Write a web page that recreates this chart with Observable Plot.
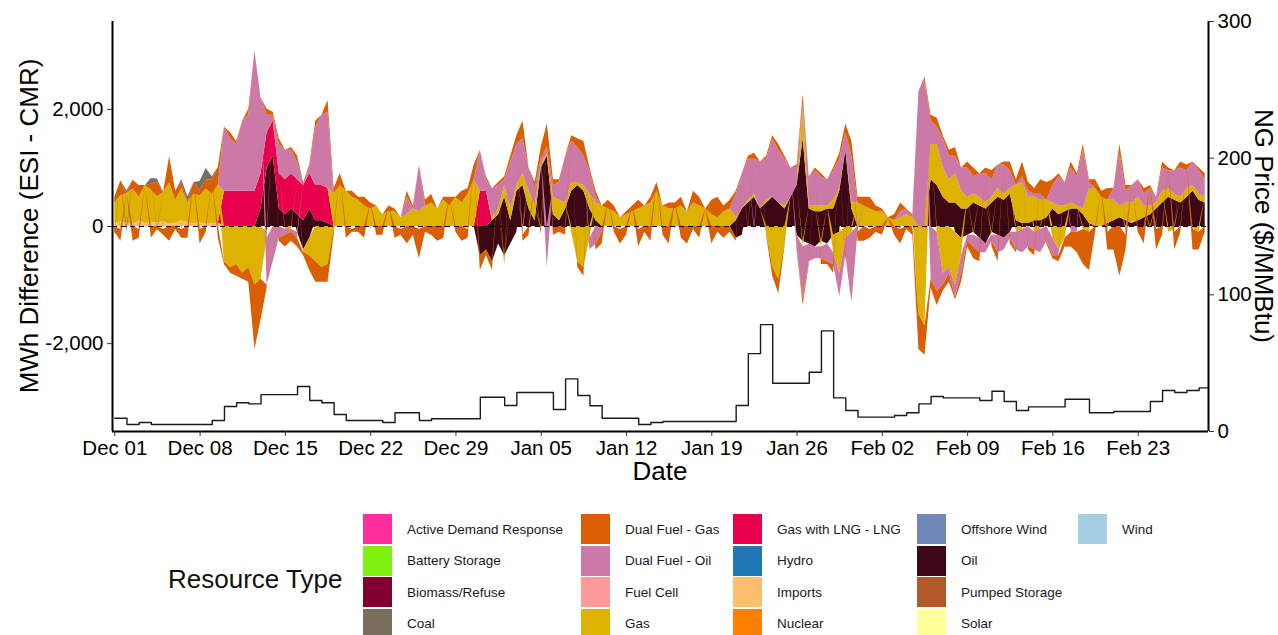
<!DOCTYPE html>
<html>
<head>
<meta charset="utf-8">
<script src="https://cdn.jsdelivr.net/npm/d3@7"></script>
<script src="https://cdn.jsdelivr.net/npm/@observablehq/plot@0.6"></script>
<style>
  body { margin: 0; background: #fff; font-family: "Liberation Sans", Arial, sans-serif; }
  #wrap { position: relative; width: 1278px; height: 635px; overflow: hidden; background: #fff; }
  #chart { position: absolute; left: 0; top: 0; }
  #legend-title { position: absolute; left: 168px; top: 579px; transform: translateY(-50%); font-size: 26px; color: #111; white-space: nowrap; }
  .item { position: absolute; display: flex; align-items: center; height: 30px; font-size: 13.5px; color: #1a1a1a; white-space: nowrap; }
  .sw { width: 29px; height: 30px; margin-right: 15px; flex: none; }
</style>
</head>
<body>
<div id="wrap"><div id="chart"></div><div id="legend-title">Resource Type</div><div id="legend"></div></div>
<script>
// ---------- categories & colours ----------
const resourceTypes = ["Active Demand Response","Battery Storage","Biomass/Refuse","Coal","Dual Fuel - Gas","Dual Fuel - Oil","Fuel Cell","Gas","Gas with LNG - LNG","Hydro","Imports","Nuclear","Offshore Wind","Oil","Pumped Storage","Solar","Wind"];
const resourceColors = ["#FF2D9E","#7FF00F","#800030","#7A6E5C","#D95F02","#CC79A7","#FB9A99","#DDB200","#E8004C","#1F78B4","#FDBF6F","#FF7F00","#7088B8","#3D0816","#B15928","#FFFF99","#A6CEE3"];

// ---------- MWh difference, one value every 12 h from Dec 01 00:00 (180 values) ----------
const gasPos = [
350,450,500,600,400,650,550,450,500,700,400,550,350,500,450,600,500,650,0,0,
0,0,0,0,0,0,0,0,0,0,0,0,0,0,0,0,550,700,600,500,
450,350,300,350,200,250,250,150,200,300,250,350,400,300,450,350,500,400,550,800,
0,0,50,100,200,200,100,200,300,250,50,50,300,350,100,150,50,100,250,300,
350,300,250,150,200,250,300,350,400,600,350,300,300,350,250,400,350,300,200,150,
250,300,50,0,50,50,0,50,0,0,50,0,0,500,50,100,100,50,150,50,
0,100,400,350,300,250,250,150,100,150,200,150,0,0,600,700,500,400,500,300,
200,150,150,100,100,150,100,100,600,700,450,400,350,300,100,150,100,100,50,100,
600,650,500,400,350,200,300,350,400,200,150,100,200,150,100,100,150,100,100,100];
const gasNeg = [
0,-50,0,0,-50,0,0,0,-50,0,0,-50,0,0,-50,0,0,0,-600,-700,
-650,-800,-700,-1000,-900,-100,0,0,-50,-50,0,-50,-300,-600,-700,-650,-50,0,0,-50,
0,0,-50,0,0,0,0,-50,0,0,-50,0,0,0,0,-50,0,0,-50,0,
0,0,0,0,-50,0,0,-50,0,0,-50,0,0,0,0,-100,-600,-700,-200,0,
0,0,0,-50,0,0,-50,0,0,0,0,0,-50,0,0,0,0,-50,0,0,
0,0,0,0,0,0,0,-100,-700,-900,-300,0,0,-100,0,0,-100,0,-300,-700,
-200,-100,0,0,-50,0,0,0,0,-50,0,0,-1500,-1700,0,-100,-800,-700,-900,-300,
0,-50,0,0,-50,0,0,0,-100,-50,0,-100,-50,0,-200,-400,-200,0,0,-50,
-100,0,0,-50,0,0,-50,0,0,0,-50,0,0,-100,-50,0,0,-50,-100,0];
const dualGasPos = [
100,250,0,150,200,0,100,250,0,450,150,100,0,200,100,150,250,300,0,100,
50,0,100,0,0,100,50,100,0,50,100,0,50,100,0,200,100,200,0,100,
50,150,100,0,0,100,50,0,100,50,0,100,150,0,50,150,0,200,100,250,
0,50,0,50,50,100,150,300,0,100,200,400,100,50,0,100,150,250,50,100,
0,150,100,0,50,100,150,0,100,150,0,100,100,150,0,200,150,0,250,350,
100,150,50,0,50,100,0,50,50,100,50,0,50,150,0,50,50,0,50,100,
150,250,100,150,200,100,50,0,100,150,0,50,0,50,100,150,50,100,150,0,
100,150,0,100,150,0,50,150,100,250,150,100,250,300,100,50,0,100,50,100,
50,150,100,200,0,150,100,0,0,100,50,0,100,50,0,100,100,0,50,100];
const dualGasNeg = [
-100,-200,0,-250,-150,0,-200,-50,-100,-250,-50,-150,-200,0,-250,-100,0,-200,-50,-100,
-200,-100,-250,-1100,-700,-50,0,-50,-200,-150,-150,-50,-250,-350,-250,-300,-100,0,-200,-50,
-100,-200,0,-150,-150,0,-200,-100,-300,-150,-500,-100,-150,-250,-200,0,-100,-250,-150,0,
-250,-100,-150,0,-100,0,0,-100,-150,0,-100,0,-150,-100,-150,0,-100,-150,0,-100,
-200,0,-100,-250,-150,0,-300,-100,-250,0,-150,-300,0,-200,-300,-50,-200,0,-300,-100,
-200,-100,-50,0,-50,0,0,-50,-150,-250,-50,0,-50,-100,-50,0,-100,-50,-150,0,
-100,0,-150,-250,-150,-100,-150,0,-150,-250,-50,-150,-600,-500,-150,-250,-100,-150,-50,-150,
-100,-200,-150,0,-100,-150,0,-100,-50,0,-50,-100,0,-50,-50,-100,-150,-250,-350,-600,
-650,-100,0,-300,-400,-850,-250,0,-100,-300,0,-350,-150,0,-300,-100,0,-350,-300,-100];
const dualOilPos = [
0,0,0,0,0,0,0,0,0,0,0,0,0,0,0,0,0,0,1100,900,
800,1200,1300,2400,1300,300,100,500,500,400,300,50,100,1000,1200,1300,0,0,0,0,
0,0,0,0,0,0,0,0,300,0,800,0,0,0,0,0,0,0,0,0,
700,200,500,400,100,800,700,600,400,300,100,100,200,300,800,700,600,500,400,100,
0,0,0,0,0,0,0,0,0,0,0,0,0,0,0,0,0,0,0,0,
0,0,400,600,700,600,800,700,1000,900,800,500,300,100,500,600,500,450,500,500,
300,800,0,0,0,0,0,0,0,100,100,0,2300,2500,400,300,500,400,300,400,
500,300,400,500,300,400,500,300,0,100,100,50,100,0,300,500,400,600,500,1000,
100,0,0,0,200,900,200,300,300,200,300,100,400,300,400,500,300,400,400,300];
const dualOilNeg = [
0,0,0,0,0,0,0,0,0,0,0,0,0,0,0,0,0,0,0,0,
0,0,0,0,0,-800,-600,-200,-100,-50,-100,0,0,0,0,0,0,0,0,0,
0,0,0,0,0,0,0,0,0,0,0,0,0,0,0,0,0,0,0,0,
0,0,0,0,0,0,0,-100,0,0,0,-700,0,0,0,0,0,0,-200,-300,
-100,0,0,0,0,0,0,0,0,0,0,0,0,0,0,0,0,0,0,0,
0,0,0,0,0,-100,0,0,0,0,0,0,-200,-900,-300,-200,-200,-300,-200,-400,
-300,-1200,-100,0,0,0,0,0,0,0,0,0,0,0,-900,-1000,-200,-100,-200,-300,
-100,-200,-250,-150,-100,-300,-200,-100,-300,-400,-350,-300,-400,-250,-300,-100,0,-100,-100,0,
0,0,0,-50,0,0,-100,0,0,0,0,-50,0,0,-50,0,0,0,0,0];
const oilPos = [
0,0,0,0,0,0,0,0,0,0,0,0,0,0,0,0,0,0,0,0,
0,0,0,0,300,1000,1200,300,200,300,200,100,300,100,100,50,0,0,0,0,
0,0,0,0,0,0,0,0,0,0,0,0,0,0,0,0,0,0,0,0,
0,0,100,200,500,100,600,700,300,100,1000,1200,200,100,300,600,700,600,300,100,
0,0,0,0,0,0,0,0,0,0,0,0,0,0,0,0,0,0,0,0,
0,0,100,300,400,500,300,400,500,400,300,500,700,1500,300,250,250,300,300,600,
1300,300,0,0,0,0,0,0,0,0,0,0,0,0,800,700,500,400,400,300,
300,400,350,300,400,500,450,550,100,50,50,100,100,150,300,200,250,300,300,200,
50,0,0,50,100,150,100,50,100,150,200,300,400,500,450,400,500,600,450,400];
const oilNeg = [
0,0,0,0,0,0,0,0,0,0,0,0,0,0,0,0,0,0,0,0,
0,0,0,0,0,-100,0,0,0,0,-100,-400,-200,0,0,0,0,0,0,0,
0,0,0,0,0,0,0,0,0,0,0,0,0,0,0,0,0,0,0,0,
-500,-400,-600,-300,-500,-300,-100,0,0,0,0,0,0,0,0,0,0,0,0,0,
0,0,0,0,0,0,0,0,0,0,0,0,0,0,0,0,0,0,0,0,
0,0,-200,-150,0,0,0,0,0,0,0,0,-150,-250,-300,-350,-250,-300,-150,-100,
0,0,0,0,0,0,0,0,0,0,0,0,0,0,0,0,0,0,-100,-200,
-150,-100,-200,-300,-100,-150,-200,-100,0,0,0,0,0,0,0,0,0,0,0,0,
0,0,0,0,0,0,0,0,0,0,0,0,0,0,0,0,0,0,0,0];
const lngPos = [
0,0,0,0,0,0,0,0,0,0,0,0,0,0,0,0,0,0,600,600,
600,600,600,600,600,600,600,600,600,600,600,600,600,600,600,600,0,0,0,0,
0,0,0,0,0,0,0,0,0,0,0,0,0,0,0,0,0,0,0,0,
600,600,0,0,0,0,0,0,0,0,0,0,0,0,0,0,0,0,0,0,
0,0,0,0,0,0,0,0,0,0,0,0,0,0,0,0,0,0,0,0,
0,0,0,0,0,0,0,0,0,0,0,0,0,0,0,0,0,0,0,0,
0,0,0,0,0,0,0,0,0,0,0,0,0,0,0,0,0,0,0,0,
0,0,0,0,0,0,0,0,0,0,0,0,0,0,0,0,0,0,0,0,
0,0,0,0,0,0,0,0,0,0,0,0,0,0,0,0,0,0,0,0];
const coalPos = [
0,0,50,0,0,0,100,50,0,0,0,50,100,0,150,200,50,0,0,0,
0,0,0,0,0,0,0,0,0,0,0,0,0,0,0,0,0,0,0,0,
0,0,0,0,0,0,0,0,0,0,0,0,0,0,0,0,0,0,0,0,
0,0,0,0,0,0,0,0,0,0,0,0,0,0,0,0,0,0,0,0,
0,0,0,0,0,0,0,0,0,0,0,0,0,0,0,0,0,0,0,0,
0,0,0,0,0,0,0,0,0,0,0,0,0,0,0,0,0,0,0,0,
0,0,0,0,0,0,0,0,0,0,0,0,0,0,0,0,0,0,0,0,
0,0,0,0,0,0,0,0,0,0,0,0,0,0,0,0,0,0,0,0,
0,0,0,0,0,0,0,0,0,0,0,0,0,0,0,0,0,0,0,0];
const coalNeg = [
-50,0,-100,0,0,0,0,-50,0,0,0,0,0,0,0,0,0,0,0,0,
0,0,0,0,0,0,0,0,0,0,0,0,0,0,0,0,0,0,0,0,
0,0,0,0,0,0,0,0,0,0,0,0,0,0,0,0,0,0,0,0,
0,0,0,0,0,0,0,0,0,0,0,0,0,0,0,0,0,0,0,0,
0,0,0,0,0,0,0,0,0,0,0,0,0,0,0,0,0,0,0,0,
0,0,0,0,0,0,0,0,0,0,0,0,0,0,0,0,0,0,0,0,
0,0,0,0,0,0,0,0,0,0,0,0,0,0,0,0,0,0,0,0,
0,0,0,0,0,0,0,0,0,0,0,0,0,0,0,0,0,0,0,0,
0,0,0,0,0,0,0,0,0,0,0,0,0,0,0,0,0,0,0,0];
const importsPos = [
50,80,60,40,100,50,70,60,80,40,50,100,60,50,70,40,50,60,0,0,
0,0,0,0,0,0,0,0,0,0,0,0,0,0,0,0,0,0,0,0,
0,0,0,0,0,0,0,0,0,0,0,0,0,0,0,0,0,0,0,0,
0,0,0,0,0,0,0,0,0,0,0,0,0,0,0,0,0,0,0,0,
0,0,0,0,0,0,0,0,0,0,0,0,0,0,0,0,0,0,0,0,
0,0,0,0,0,0,0,0,0,0,0,0,0,0,0,0,0,0,0,0,
0,0,0,0,0,0,0,0,0,0,0,0,0,0,0,0,0,0,0,0,
0,0,0,0,0,0,0,0,0,0,0,0,0,0,0,0,0,0,0,0,
0,0,0,0,0,0,0,0,0,0,0,0,0,0,0,0,0,0,0,0];

// ---------- NG price ($/MMBtu), one value per day from Dec 01 ----------
const ngPrice = [
9.7,5.1,6.6,5.1,5.1,5.1,5.1,5.1,8.0,18.3,
21,20.2,27,27,27,32.9,22.7,21,12.4,8,
8,8,6.6,13.7,13.7,8,9.3,9.3,9.3,9.3,
25.1,25.1,19,28.5,28.5,28.5,16.1,38.5,26.3,18.8,
9.7,9.7,9.7,5.1,6.6,7.3,7.3,7.3,7.3,7.3,
7.3,19,57,78.2,35.3,35.3,35.3,43.4,73.6,24.6,
15.4,10.5,10.5,10.5,11.7,13.7,20.2,25.6,24.6,24.6,
24.6,22.7,29.5,21.9,15.4,18,18,18,23.6,23.6,
13.7,13.7,14.6,14.6,14.6,21.9,30,28.5,30,31.9];

// ---------- axis ticks ----------
const xTickLabels = ["Dec 01","Dec 08","Dec 15","Dec 22","Dec 29","Jan 05","Jan 12","Jan 19","Jan 26","Feb 02","Feb 09","Feb 16","Feb 23"];
const xTickDayOffsets = [0,7,14,21,28,35,42,49,56,63,70,77,84];
const leftTicks = [-2000, 0, 2000];
const rightTicks = [0, 100, 200, 300];

// ---------- build ----------
const DAY = 864e5, HALF = DAY / 2;
const T0 = Date.UTC(2025, 11, 1);
const xDomain = [new Date(T0 - 0.19 * DAY), new Date(T0 + 89.77 * DAY)];
const toLeft = p => p * 7000 / 300 - 3500;
const fromLeft = v => (v + 3500) * 300 / 7000;

const series = [
  {key: "oilP", type: "Oil", values: oilPos},
  {key: "oilN", type: "Oil", values: oilNeg},
  {key: "impP", type: "Imports", values: importsPos},
  {key: "lngP", type: "Gas with LNG - LNG", values: lngPos},
  {key: "gasP", type: "Gas", values: gasPos},
  {key: "gasN", type: "Gas", values: gasNeg},
  {key: "dfoP", type: "Dual Fuel - Oil", values: dualOilPos},
  {key: "dfoN", type: "Dual Fuel - Oil", values: dualOilNeg},
  {key: "dfgP", type: "Dual Fuel - Gas", values: dualGasPos},
  {key: "dfgN", type: "Dual Fuel - Gas", values: dualGasNeg},
  {key: "coalP", type: "Coal", values: coalPos},
  {key: "coalN", type: "Coal", values: coalNeg}
];
series.forEach(s => { if (s.values.length !== 180) throw new Error(s.key + " has " + s.values.length); });
const stackOrder = series.map(s => s.key);
const rows = series.flatMap(s => s.values.map((v, i) => ({t: new Date(T0 + i * HALF), v, key: s.key, type: s.type})));

const priceRows = ngPrice.map((p, i) => ({t: new Date(T0 + i * DAY), y: toLeft(p)}));
priceRows.push({t: xDomain[1], y: toLeft(ngPrice[ngPrice.length - 1])});

const xTickDates = xTickDayOffsets.map(d => new Date(T0 + d * DAY));
const labelMap = new Map(xTickDates.map((d, i) => [+d, xTickLabels[i]]));
const fmtLeft = d => (d < 0 ? "-" : "") + d3.format(",")(Math.abs(d));

const plot = Plot.plot({
  width: 1278, height: 495,
  marginLeft: 112, marginRight: 70, marginTop: 21, marginBottom: 64,
  style: {fontFamily: "'Liberation Sans', Arial, sans-serif", fontSize: "20.5px", color: "#000", background: "#fff"},
  x: {type: "utc", domain: xDomain, label: null},
  y: {domain: [-3500, 3500], label: null},
  color: {domain: resourceTypes, range: resourceColors},
  marks: [
    Plot.areaY(rows, Plot.stackY({x: "t", y: "v", z: "key", fill: "type", order: stackOrder})),
    Plot.ruleY([0], {stroke: "#000", strokeWidth: 1.2, strokeDasharray: "5,4"}),
    Plot.line(priceRows, {x: "t", y: "y", curve: "step-after", stroke: "#1a1a1a", strokeWidth: 1.4}),
    Plot.ruleX([xDomain[0]], {stroke: "#000", strokeWidth: 2}),
    Plot.ruleX([xDomain[1]], {stroke: "#000", strokeWidth: 2}),
    Plot.ruleY([-3500], {stroke: "#000", strokeWidth: 2}),
    Plot.axisX(xTickDates, {anchor: "bottom", tickSize: 5, tickPadding: 4, fontSize: 20.5, tickFormat: d => labelMap.get(+d), label: null, stroke: "#333"}),
    Plot.axisY(leftTicks, {anchor: "left", tickSize: 5, tickPadding: 4, fontSize: 20.5, tickFormat: fmtLeft, label: null, stroke: "#333"}),
    Plot.axisY(rightTicks.map(toLeft), {anchor: "right", tickSize: 5, tickPadding: 4, fontSize: 20.5, tickFormat: v => String(Math.round(fromLeft(v))), label: null, stroke: "#333"})
  ]
});

const svg = d3.select(plot);
svg.append("text").attr("transform", "translate(29,226) rotate(-90)")
  .attr("text-anchor", "middle").attr("dominant-baseline", "central")
  .attr("font-size", 26).attr("fill", "#000").text("MWh Difference (ESI - CMR)");
svg.append("text").attr("transform", "translate(1264,226) rotate(90)")
  .attr("text-anchor", "middle").attr("dominant-baseline", "central")
  .attr("font-size", 26).attr("fill", "#000").text("NG Price ($/MMBtu)");
svg.append("text").attr("x", 660).attr("y", 471)
  .attr("text-anchor", "middle").attr("dominant-baseline", "central")
  .attr("font-size", 26).attr("fill", "#000").text("Date");

document.getElementById("chart").appendChild(plot);

// ---------- legend (4 rows, filled by column) ----------
const colX = [363, 581, 733, 917, 1078];
const rowY = [514, 545.5, 577, 608.5];
const legend = document.getElementById("legend");
resourceTypes.forEach((t, i) => {
  const c = Math.floor(i / 4), r = i % 4;
  const div = document.createElement("div");
  div.className = "item";
  div.style.left = colX[c] + "px";
  div.style.top = rowY[r] + "px";
  const sw = document.createElement("div");
  sw.className = "sw";
  sw.style.background = resourceColors[i];
  const lab = document.createElement("span");
  lab.textContent = t;
  div.appendChild(sw); div.appendChild(lab);
  legend.appendChild(div);
});
</script>
</body>
</html>
